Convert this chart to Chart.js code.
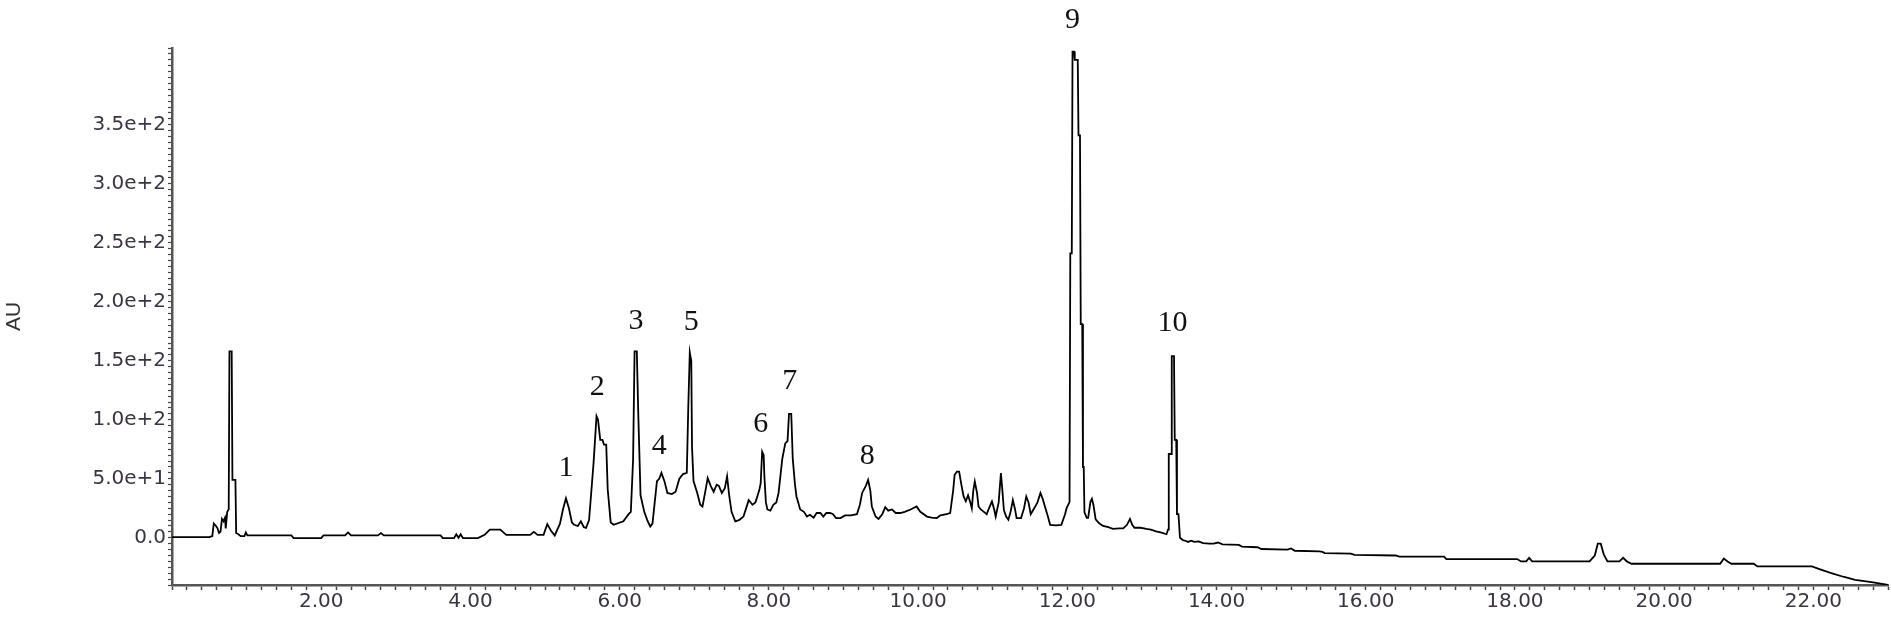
<!DOCTYPE html>
<html>
<head>
<meta charset="utf-8">
<title>Chromatogram</title>
<script src="https://cdn.jsdelivr.net/npm/chart.js@4.4.1/dist/chart.umd.min.js"></script>
<style>
  html, body { margin: 0; padding: 0; background: #ffffff; }
  #wrap { width: 1891px; height: 617px; position: relative; }
</style>
</head>
<body>
<div id="wrap"><canvas id="chrom"></canvas></div>
<script>
// === Chromatogram trace (retention time in min, absorbance in AU) ===
const retentionTimes = [
  0.00, 0.50, 0.54, 0.56, 0.59, 0.61, 0.63, 0.65, 0.67, 0.69, 0.71, 0.72, 0.74, 0.76, 0.77, 0.80, 0.81, 0.85, 0.86, 0.89,
  0.92, 0.97, 0.99, 1.01, 1.60, 1.63, 2.00, 2.03, 2.32, 2.36, 2.40, 2.76, 2.80, 2.84, 3.60, 3.63, 3.78, 3.81, 3.84, 3.87,
  3.90, 4.10, 4.19, 4.26, 4.40, 4.48, 4.80, 4.85, 4.90, 4.98,
  5.03, 5.08, 5.13, 5.20, 5.24, 5.28, 5.32, 5.36, 5.39, 5.44, 5.48, 5.52, 5.55, 5.59, 5.61, 5.65, 5.69, 5.71, 5.74, 5.77,
  5.79, 5.82, 5.84, 5.88, 5.92, 6.05, 6.12, 6.15, 6.18, 6.20, 6.23, 6.25, 6.28, 6.33, 6.37, 6.41, 6.44, 6.47, 6.50, 6.53,
  6.56, 6.60, 6.64, 6.70, 6.75, 6.80, 6.85, 6.90, 6.92, 6.94, 6.96, 6.97, 6.99, 7.04, 7.08, 7.11, 7.15, 7.18, 7.22, 7.26,
  7.30, 7.33, 7.37, 7.41, 7.44, 7.47, 7.50, 7.55, 7.60, 7.66, 7.70, 7.73, 7.78, 7.82, 7.87, 7.89, 7.91, 7.93, 7.94, 7.96,
  7.98, 8.02, 8.06, 8.10, 8.13, 8.18, 8.22, 8.25, 8.27, 8.30, 8.32, 8.35, 8.37, 8.42, 8.47, 8.51, 8.55,
  8.60, 8.64, 8.69, 8.73, 8.77, 8.82, 8.86, 8.90, 8.96, 9.02, 9.10, 9.18, 9.22, 9.25, 9.30, 9.33, 9.36, 9.38, 9.43, 9.47,
  9.52, 9.56, 9.60, 9.65, 9.70, 9.76, 9.82, 9.90, 9.98, 10.03, 10.12, 10.18, 10.25, 10.30, 10.38, 10.43, 10.47, 10.49, 10.52, 10.55,
  10.58, 10.61, 10.64, 10.67, 10.70, 10.72, 10.74, 10.76, 10.79, 10.81, 10.84, 10.87, 10.92, 10.95, 10.99, 11.02, 11.04, 11.08, 11.11, 11.13,
  11.15, 11.18, 11.21, 11.24, 11.27, 11.30, 11.32, 11.38, 11.42, 11.45, 11.48, 11.51, 11.56, 11.60, 11.64, 11.67, 11.70, 11.74, 11.77, 11.85,
  11.92, 11.97, 11.99, 12.03,
  12.04, 12.06, 12.07, 12.09, 12.10, 12.14, 12.15, 12.17, 12.18, 12.20, 12.21, 12.22, 12.23, 12.26, 12.28, 12.31, 12.33, 12.35, 12.38, 12.43,
  12.48, 12.55, 12.61, 12.70, 12.75, 12.80, 12.84, 12.87, 12.90, 12.98, 13.06, 13.12, 13.19, 13.25, 13.33, 13.35, 13.36, 13.39, 13.40, 13.43,
  13.44, 13.46, 13.47, 13.49, 13.51, 13.55, 13.58, 13.62, 13.66, 13.70, 13.76, 13.82, 13.90, 13.96, 14.02, 14.08, 14.30, 14.34, 14.55, 14.60,
  14.95, 15.00, 15.05, 15.38, 15.42, 15.45, 15.80, 15.85, 16.40, 16.45, 17.05, 17.08, 18.03, 18.08, 18.15, 18.19, 18.23, 19.00, 19.07, 19.11,
  19.15, 19.19, 19.24, 19.40, 19.45, 19.50, 19.56, 20.75, 20.80, 20.85, 20.90, 21.20, 21.25, 21.98, 22.10, 22.24, 22.40, 22.56, 22.78, 22.96,
  23.00
];

const absorbance = [
  0.6, 0.6, 1.5, 12, 10, 8, 4, 5, 16, 14, 17, 8, 22, 24, 158, 158, 49, 49, 4, 3,
  1.4, 1.5, 4.5, 2, 2, -0.3, -0.3, 2, 2, 4.5, 2, 2, 4, 2, 2, -0.3, -0.3, 3, 0, 3,
  -0.3, -0.3, 2.5, 7, 7, 2.5, 2.5, 5, 2.5, 2.5,
  11.6, 6, 2, 12, 24, 33.5, 25, 13, 11, 10, 14, 9, 8.4, 15, 31, 63, 103, 100, 83, 83,
  79, 79, 41, 13, 11, 14, 20, 22, 66, 158, 158, 104, 36, 22, 15, 9.6, 12, 30, 48, 50,
  55, 48, 38, 37, 39, 50, 54, 55, 111, 157, 150, 77, 48, 38, 28, 26.5, 40, 50.6, 44, 39,
  45, 44, 38, 42, 52, 35, 22, 14, 15, 18, 26, 32, 28, 30, 40, 46, 73, 70, 52, 30,
  24, 23, 28, 30, 38, 67, 80, 82, 105, 105, 67, 45, 35, 24, 22, 18, 19.5,
  17, 21, 21, 18, 21, 21, 20, 16.7, 16.7, 19, 19, 20, 28, 38, 44, 49, 40, 26.5, 18, 16,
  20, 26, 23, 24, 21, 21, 22, 24, 26.5, 22, 18, 17, 16.7, 19, 20, 21, 40, 53.4, 56, 56,
  45, 35, 31, 36, 30, 25, 40, 47.7, 38, 26.5, 24, 22.6, 20, 25, 30.8, 24, 18, 30, 54.8, 40,
  23.5, 18, 15.3, 22, 32, 24, 16.7, 16.7, 25, 35, 30, 20, 25.4, 30, 37.9, 33, 26.5, 18, 11, 10.5,
  11, 20, 25, 30.5,
  241, 241, 412, 412, 405, 405, 341, 341, 181, 181, 60, 60, 21.5, 17, 17, 30.5, 33, 28, 15.6, 12,
  10, 9, 7.5, 8, 8, 11, 16, 11, 8.5, 8.5, 7.5, 7, 5.5, 4.5, 3, 7, 71, 71, 154, 154,
  83, 83, 20, 20, 0, -2, -2.5, -3.5, -2.5, -3.5, -3, -4.5, -5, -5, -4, -5.5, -6, -7.5, -8, -9.5,
  -10, -9, -11, -11.5, -12, -13, -13.5, -14.5, -15, -16, -16, -18, -18, -20, -20, -17, -20, -20, -15, -5,
  -5, -14, -20, -20, -17, -20, -22, -22, -17.5, -20, -22, -22, -24.3, -24.3, -27, -30, -33, -35.6, -37.5, -39.5,
  -40
];

// peak numbering written above the trace
const peakLabels = ['1', '2', '3', '4', '5', '6', '7', '8', '9', '10'];
const peakLabelTimes = [5.28, 5.70, 6.22, 6.53, 6.96, 7.89, 8.28, 9.32, 12.07, 13.41];
const peakLabelLevels = [59, 128, 184, 78, 183, 96, 133, 69, 439, 182];

// axis ranges
const timeMin = 0, timeMax = 23, timeStep = 0.2, timeLabelEvery = 2;
const auMin = -40, auMax = 415, auStep = 5, auLabelEvery = 50, auLabelTop = 350;

// === draw the numbers over the peaks ===
const peakLabelPlugin = {
  id: 'peakLabels',
  afterDraw(chart) {
    const ctx = chart.ctx;
    const xs = chart.scales.x, ys = chart.scales.y;
    ctx.save();
    ctx.font = '30px "Liberation Serif", "Times New Roman", serif';
    ctx.fillStyle = '#111111';
    ctx.textAlign = 'center';
    ctx.textBaseline = 'middle';
    peakLabels.forEach((txt, i) => {
      ctx.fillText(txt, xs.getPixelForValue(peakLabelTimes[i]), ys.getPixelForValue(peakLabelLevels[i]));
    });
    ctx.restore();
  }
};

const tickFont = { family: '"DejaVu Sans", Verdana, sans-serif', size: 20 };

new Chart(document.getElementById('chrom'), {
  type: 'line',
  data: {
    datasets: [{
      data: retentionTimes.map((t, i) => ({ x: t, y: absorbance[i] })),
      borderColor: '#000000',
      borderWidth: 1.8,
      pointRadius: 0,
      tension: 0,
      fill: false
    }]
  },
  options: {
    responsive: true,
    maintainAspectRatio: false,
    animation: false,
    events: [],
    layout: { padding: { top: 48, right: 3, left: 0, bottom: 0 } },
    plugins: {
      legend: { display: false },
      tooltip: { enabled: false }
    },
    scales: {
      x: {
        type: 'linear',
        min: timeMin,
        max: timeMax,
        afterFit: s => { s.height = 32; },
        ticks: {
          stepSize: timeStep,
          autoSkip: false,
          maxRotation: 0,
          maxTicksLimit: 1000,
          padding: 0,
          color: '#3a3440',
          font: tickFont,
          callback: v => {
            const k = v / timeLabelEvery;
            return (v > 0 && Math.abs(k - Math.round(k)) < 1e-6) ? v.toFixed(2) : '';
          }
        },
        grid: { drawOnChartArea: false, drawTicks: true, tickLength: 5, tickColor: '#444444', tickWidth: 1.5 },
        border: { display: true, color: '#555555', width: 2.5 }
      },
      y: {
        type: 'linear',
        min: auMin,
        max: auMax,
        afterFit: s => { s.width = 172; },
        title: {
          display: true,
          text: 'AU',
          color: '#333333',
          font: { family: '"Liberation Sans", Arial, sans-serif', size: 21 },
          padding: { top: 2, bottom: 0 }
        },
        ticks: {
          stepSize: auStep,
          autoSkip: false,
          maxTicksLimit: 1000,
          padding: 2,
          color: '#3a3440',
          font: tickFont,
          callback: v => {
            if (v < 0 || v > auLabelTop || Math.abs(v % auLabelEvery) > 1e-6) return '';
            return v === 0 ? '0.0' : v.toExponential(1);
          }
        },
        grid: { drawOnChartArea: false, drawTicks: true, tickLength: 4, tickColor: '#444444', tickWidth: 1.2 },
        border: { display: true, color: '#555555', width: 2.5 }
      }
    }
  },
  plugins: [peakLabelPlugin]
});
</script>
</body>
</html>
